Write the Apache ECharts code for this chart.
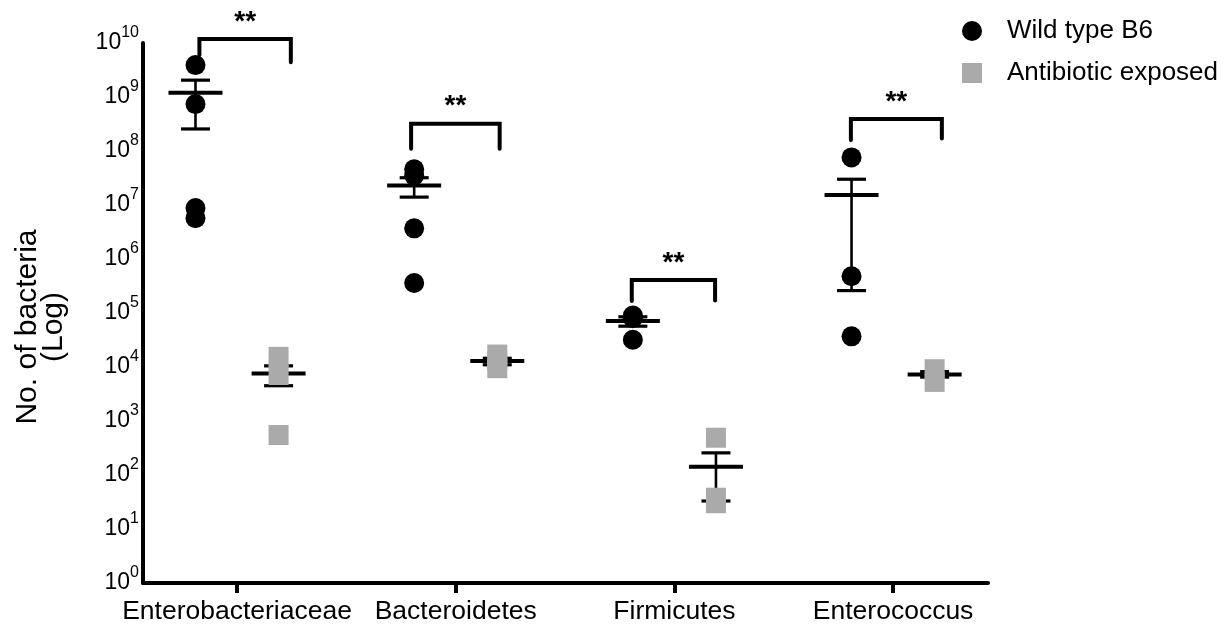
<!DOCTYPE html>
<html>
<head>
<meta charset="utf-8">
<script src="https://cdn.jsdelivr.net/npm/echarts@6/dist/echarts.min.js"></script>
<style>
html,body{margin:0;padding:0;background:#fff;}
#chart{width:1226px;height:631px;}
</style>
</head>
<body>
<div id="chart"></div>
<script>
// ---- data ----
const categories = ['Enterobacteriaceae', 'Bacteroidetes', 'Firmicutes', 'Enterococcus'];
const seriesNames = ['Wild type B6', 'Antibiotic exposed'];

// individual points per category
const wtValues = [
  [3.9e9, 7.4e8, 8.8e6, 5.7e6],
  [4.6e7, 3.5e7, 3.7e6, 3.6e5],
  [9.0e4, 8.0e4, 3.2e4],
  [7.6e7, 4.8e5, 3.7e4]
];
const abValues = [
  [1.54e4, 7.1e3, 5.5e2],
  [1.7e4, 1.3e4, 9.5e3],
  [4.9e2, 38, 30],
  [9.1e3, 5.3e3]
];

// mean and error bar ends (mean ± SEM)
const wtMean = [1.2e9, 2.3e7, 7.1e4, 1.53e7];
const wtHigh = [2.05e9, 3.2e7, 8.5e4, 3.0e7];
const wtLow  = [2.56e8, 1.4e7, 5.7e4, 2.6e5];
const abMean = [7.6e3, 1.29e4, 142, 7.3e3];
const abHigh = [1.05e4, 1.45e4, 257, 8.2e3];
const abLow  = [4.5e3, 1.1e4, 33, 6.5e3];

// significance brackets
const sigLabels = ['**', '**', '**', '**'];
const bracketLeftX  = [-0.172, -0.204, -0.195, -0.193];
const bracketRightX = [0.246, 0.201, 0.186, 0.223];
const bracketTop      = [1.18e10, 3.2e8, 4.1e5, 3.9e8];
const bracketLeftEnd  = [6.0e9, 1.1e8, 1.66e5, 1.6e8];
const bracketRightEnd = [4.4e9, 1.1e8, 1.7e5, 1.7e8];

const yTickValues = [1, 10, 100, 1e3, 1e4, 1e5, 1e6, 1e7, 1e8, 1e9, 1e10];

// ---- build ----
const OFF = 0.19;
const FONT = '"Liberation Sans", Arial, Helvetica, sans-serif';

const wtData = [], abData = [];
categories.forEach((c, i) => {
  wtValues[i].forEach(v => wtData.push([i - OFF, v]));
  abValues[i].forEach(v => abData.push([i + OFF, v]));
});
const wtErr = categories.map((c, i) => [i - OFF, wtMean[i], wtLow[i], wtHigh[i]]);
const abErr = categories.map((c, i) => [i + OFF, abMean[i], abLow[i], abHigh[i]]);
const brData = categories.map((c, i) => [i + bracketLeftX[i], i + bracketRightX[i], bracketTop[i], bracketLeftEnd[i], bracketRightEnd[i], i]);

function errRender(params, api) {
  const x = api.value(0);
  const m = api.coord([x, api.value(1)]);
  const lo = api.coord([x, api.value(2)]);
  const hi = api.coord([x, api.value(3)]);
  const st = (w) => ({ stroke: '#000', lineWidth: w });
  return {
    type: 'group',
    children: [
      { type: 'line', shape: { x1: hi[0], y1: hi[1], x2: lo[0], y2: lo[1] }, style: st(2.6) },
      { type: 'line', shape: { x1: hi[0] - 14.5, y1: hi[1], x2: hi[0] + 14.5, y2: hi[1] }, style: st(3.2) },
      { type: 'line', shape: { x1: lo[0] - 14.5, y1: lo[1], x2: lo[0] + 14.5, y2: lo[1] }, style: st(3.2) },
      { type: 'line', shape: { x1: m[0] - 27, y1: m[1], x2: m[0] + 27, y2: m[1] }, style: st(4) }
    ]
  };
}

function bracketRender(params, api) {
  const xl = api.value(0), xr = api.value(1);
  const top = api.value(2), le = api.value(3), re = api.value(4);
  const idx = api.value(5);
  const p1 = api.coord([xl, le]);
  const p2 = api.coord([xl, top]);
  const p3 = api.coord([xr, top]);
  const p4 = api.coord([xr, re]);
  return {
    type: 'group',
    children: [
      { type: 'polyline', shape: { points: [p1, p2, p3, p4] },
        style: { stroke: '#000', lineWidth: 4, fill: null, lineCap: 'round', lineJoin: 'miter' } },
      { type: 'text', x: (p2[0] + p3[0]) / 2, y: p2[1] - 17,
        style: { text: sigLabels[idx], fill: '#000', font: 'bold 28px ' + FONT, align: 'center', verticalAlign: 'middle' } }
    ]
  };
}

const chart = echarts.init(document.getElementById('chart'), null, { renderer: 'canvas' });
chart.setOption({
  animation: false,
  backgroundColor: '#fff',
  grid: { left: 143, right: 238, top: 43, bottom: 48, containLabel: false },
  xAxis: {
    type: 'value',
    min: -0.43, max: 3.434,
    splitLine: { show: false },
    axisLine: { show: true, onZero: false, lineStyle: { color: '#000', width: 4 } },
    axisTick: { show: true, customValues: [0, 1, 2, 3], length: 10, lineStyle: { color: '#000', width: 4 } },
    axisLabel: {
      customValues: [0, 1, 2, 3],
      formatter: v => categories[Math.round(v)] || '',
      color: '#000', fontSize: 26.5, fontFamily: FONT, margin: 15
    }
  },
  yAxis: {
    type: 'log', logBase: 10, min: 1, max: 1e10, splitNumber: 10,
    splitLine: { show: false },
    axisLine: { show: true, onZero: false, lineStyle: { color: '#000', width: 4 } },
    axisTick: { show: false },
    axisLabel: {
      customValues: yTickValues,
      margin: 4,
      formatter: v => '{b|10}{s|' + Math.round(Math.log10(v)) + '}',
      rich: {
        b: { fontSize: 23, fontFamily: FONT, color: '#000', lineHeight: 36, verticalAlign: 'middle' },
        s: { fontSize: 16, fontFamily: FONT, color: '#000', lineHeight: 16, verticalAlign: 'top' }
      }
    }
  },
  legend: {
    orient: 'vertical',
    left: 957, top: 11,
    itemWidth: 20, itemHeight: 20, itemGap: 12,
    textStyle: { fontSize: 26, fontFamily: FONT, color: '#000', lineHeight: 30, padding: [0, 0, 0, 20] },
    data: [{ name: seriesNames[0], icon: 'circle' }, { name: seriesNames[1], icon: 'rect' }],
    selectedMode: false
  },
  graphic: [{
    type: 'text', x: 41, y: 327, rotation: Math.PI / 2,
    style: { text: 'No. of bacteria\n(Log)', font: '30px ' + FONT, fill: '#000', align: 'center', verticalAlign: 'middle', lineHeight: 26 }
  }],
  series: [
    { name: 'wtErr', type: 'custom', renderItem: errRender, data: wtErr, encode: { x: 0, y: [1, 2, 3] }, z: 3, silent: true },
    { name: 'abErr', type: 'custom', renderItem: errRender, data: abErr, encode: { x: 0, y: [1, 2, 3] }, z: 2, silent: true },
    { name: seriesNames[0], type: 'scatter', data: wtData, symbol: 'circle', symbolSize: 20, itemStyle: { color: '#000', opacity: 1 }, z: 2 },
    { name: seriesNames[1], type: 'scatter', data: abData, symbol: 'rect', symbolSize: 20, itemStyle: { color: '#aaaaaa', opacity: 1 }, z: 4 },
    { name: 'brackets', type: 'custom', renderItem: bracketRender, data: brData, encode: { x: [0, 1], y: [3, 4] }, clip: false, z: 5, silent: true }
  ]
});
</script>
</body>
</html>
